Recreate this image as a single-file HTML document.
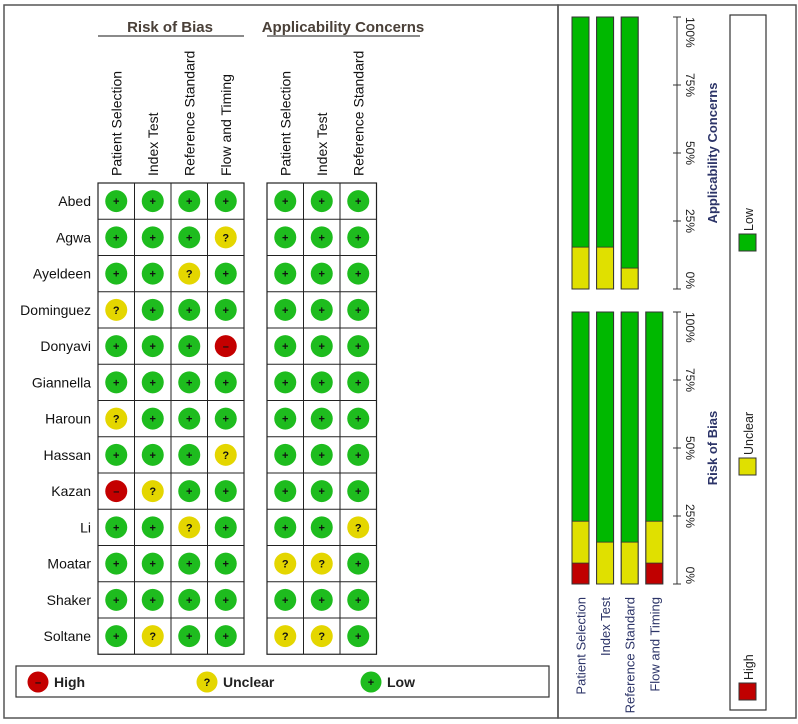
<!DOCTYPE html>
<html><head><meta charset="utf-8"><style>
html,body{margin:0;padding:0;background:#fff;}
svg{display:block;font-family:"Liberation Sans",Arial,sans-serif;}
</style></head><body>
<svg id="chart" width="798" height="724" viewBox="0 0 798 724" xmlns="http://www.w3.org/2000/svg"></svg>
<script>
const studies=["Abed","Agwa","Ayeldeen","Dominguez","Donyavi","Giannella","Haroun","Hassan","Kazan","Li","Moatar","Shaker","Soltane"];
const robDomains=["Patient Selection","Index Test","Reference Standard","Flow and Timing"];
const acDomains=["Patient Selection","Index Test","Reference Standard"];
// L=low, U=unclear, H=high
const robJudgements=["LLLL","LLLU","LLUL","ULLL","LLLH","LLLL","ULLL","LLLU","HULL","LLUL","LLLL","LLLL","LULL"];
const acJudgements=["LLL","LLL","LLL","LLL","LLL","LLL","LLL","LLL","LLL","LLU","UUL","LLL","UUL"];
const robHighPct=[7.7,0,0,7.7];
const robUnclearPct=[15.4,15.4,15.4,15.4];
const acHighPct=[0,0,0];
const acUnclearPct=[15.4,15.4,7.7];
const pctTicks=[0,25,50,75,100];

const NS="http://www.w3.org/2000/svg";
const svg=document.getElementById('chart');
function mk(tag,attrs,parent){const e=document.createElementNS(NS,tag);for(const k in attrs)e.setAttribute(k,attrs[k]);(parent||svg).appendChild(e);return e;}
const COL={L:"#1ebc1e",U:"#e4d600",H:"#c40000"};
const SYM={L:"+",U:"?",H:"–"};
const BAR={L:"#00b800",U:"#e0e000",H:"#c00000"};

let f=mk('rect',{x:4,y:5,width:554,height:713,fill:"none",stroke:"#555","stroke-width":1.5});

f=mk('rect',{x:558,y:5,width:238,height:713,fill:"none",stroke:"#555","stroke-width":1.5});


const gridTop=183,rowH=36.25,colW=36.5;
const robX0=98,acX0=267;
function yRow(i){return gridTop+rowH*i;}
function drawGrid(x0,domains,judg,name,title,ulEnd,titleX){
  const g=mk('g',{});
  
  const t=mk('text',{x:titleX,y:32,"text-anchor":"middle","font-size":15,"font-weight":"bold",fill:"#4a4038"},g);t.textContent=title;
  
  mk('line',{x1:x0,y1:36,x2:ulEnd,y2:36,stroke:"#444","stroke-width":1.3},g);
  domains.forEach((d,j)=>{
    const x=x0+colW*j+colW/2+5;
    const lt=mk('text',{x:x,y:176,"font-size":14,fill:"#111",transform:`rotate(-90 ${x} 176)`},g);lt.textContent=d;
    
  });
  mk('rect',{x:x0,y:gridTop,width:colW*domains.length,height:rowH*studies.length,fill:"#fff",stroke:"#222","stroke-width":1.2},g);
  for(let j=1;j<domains.length;j++)mk('line',{x1:x0+colW*j,y1:gridTop,x2:x0+colW*j,y2:gridTop+rowH*studies.length,stroke:"#222","stroke-width":1},g);
  for(let i=1;i<studies.length;i++)mk('line',{x1:x0,y1:yRow(i),x2:x0+colW*domains.length,y2:yRow(i),stroke:"#222","stroke-width":1},g);
  studies.forEach((s,i)=>{for(let j=0;j<domains.length;j++){
    const v=judg[i][j];const cx2=x0+colW*j+colW/2,cy=yRow(i)+rowH/2;
    const c=mk('circle',{cx:cx2,cy:cy,r:11,fill:COL[v]},g);
    
    const tt=mk('text',{x:cx2,y:cy+4,"text-anchor":"middle","font-size":11,"font-weight":"bold",fill:"#111"},g);tt.textContent=SYM[v];
  }});
}
drawGrid(robX0,robDomains,robJudgements,'risk-of-bias-grid','Risk of Bias',244,170);
drawGrid(acX0,acDomains,acJudgements,'applicability-grid','Applicability Concerns',420,343);
studies.forEach((s,i)=>{
  const t=mk('text',{x:91,y:yRow(i)+rowH/2+5,"text-anchor":"end","font-size":14,fill:"#111"});t.textContent=s;
  
});

const lg=mk('g',{});
mk('rect',{x:16,y:666,width:533,height:31,fill:"#fff",stroke:"#333","stroke-width":1.2},lg);
[["H","High",38],["U","Unclear",207],["L","Low",371]].forEach(([k,l,x])=>{
  const c=mk('circle',{cx:x,cy:682,r:10.5,fill:COL[k]},lg);
  
  const s=mk('text',{x:x,y:686,"text-anchor":"middle","font-size":11,"font-weight":"bold",fill:"#111"},lg);s.textContent=SYM[k];
  const t=mk('text',{x:x+16,y:687,"font-size":14,"font-weight":"bold",fill:"#222"},lg);t.textContent=l;
});

const barXs0=572,barStep=24.6,barW=17;
function barChart(top,bottom,domains,high,unc,name,title,labels){
  const g=mk('g',{});
  const h=bottom-top;const yv=p=>bottom-h*p/100;
  domains.forEach((d,j)=>{
    const x=barXs0+barStep*j;
    const segs=[["H",0,high[j]],["U",high[j],high[j]+unc[j]],["L",high[j]+unc[j],100]];
    segs.forEach(([k,a,b])=>{ if(b-a<=0)return;
      const r=mk('rect',{x:x,y:yv(b),width:barW,height:yv(a)-yv(b),fill:BAR[k],stroke:"#333","stroke-width":0.8},g);
      
    });
    mk('rect',{x:x,y:top,width:barW,height:h,fill:"none",stroke:"#333","stroke-width":1},g);
    if(labels){const lx=x+barW/2+5;const t=mk('text',{x:lx,y:bottom+13,"text-anchor":"end","font-size":13,fill:"#2c3468",transform:`rotate(-90 ${lx} ${bottom+13})`},g);t.textContent=d;
      }
  });
  const ax=677;
  mk('line',{x1:ax,y1:top,x2:ax,y2:bottom,stroke:"#333","stroke-width":1},g);
  pctTicks.forEach(p=>{const y=yv(p);
    mk('line',{x1:ax-4,y1:y,x2:ax+4,y2:y,stroke:"#333","stroke-width":1},g);
    const anc=p==0?"end":(p==100?"start":"middle");
    const t=mk('text',{x:ax+9,y:y,"text-anchor":anc,"font-size":12,fill:"#222",transform:`rotate(90 ${ax+9} ${y})`},g);t.textContent=p+"%";
  });
  const ty=(top+bottom)/2;
  const t=mk('text',{x:717,y:ty,"text-anchor":"middle","font-size":13,"font-weight":"bold",fill:"#2c3468",transform:`rotate(-90 717 ${ty})`},g);t.textContent=title;
  
}
barChart(17,289,acDomains,acHighPct,acUnclearPct,'applicability-summary-chart','Applicability Concerns',false);
barChart(312,584,robDomains,robHighPct,robUnclearPct,'risk-of-bias-summary-chart','Risk of Bias',true);

const rl=mk('g',{});
mk('rect',{x:730,y:15,width:36,height:695,fill:"#fff",stroke:"#333","stroke-width":1.2},rl);
[["L","Low",234],["U","Unclear",458],["H","High",683]].forEach(([k,l,y])=>{
  const r=mk('rect',{x:739,y:y,width:17,height:17,fill:BAR[k],stroke:"#333","stroke-width":1},rl);
  
  const t=mk('text',{x:753,y:y-3,"font-size":12.5,fill:"#222",transform:`rotate(-90 753 ${y-3})`},rl);t.textContent=l;
});
</script>
</body></html>
